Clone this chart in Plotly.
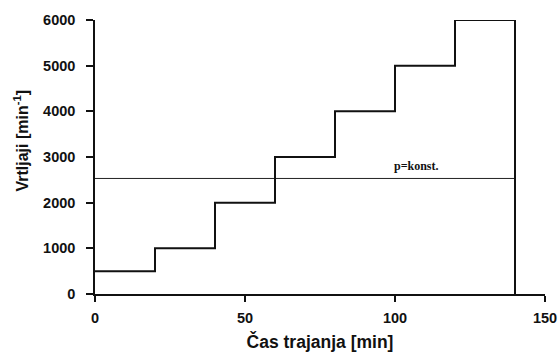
import plotly.graph_objects as go

# Step profile: time [min] and speed [min^-1]
step_time = [0, 20, 20, 40, 40, 60, 60, 80, 80, 100, 100, 120, 120, 140, 140]
step_speed = [500, 500, 1000, 1000, 2000, 2000, 3000, 3000, 4000, 4000, 5000, 5000, 6000, 6000, 0]

const_time = [0, 140]
const_speed = [2530, 2530]
const_label = "p=konst."
const_label_pos = (107, 2810)

x_ticks = [0, 50, 100, 150]
y_ticks = [0, 1000, 2000, 3000, 4000, 5000, 6000]

fig = go.Figure()
fig.add_trace(go.Scatter(x=const_time, y=const_speed, mode="lines",
                         line=dict(color="#222", width=1), showlegend=False))
fig.add_trace(go.Scatter(x=step_time, y=step_speed, mode="lines",
                         line=dict(color="#111", width=2), showlegend=False))

fig.add_annotation(x=const_label_pos[0], y=const_label_pos[1], text="<b>" + const_label + "</b>",
                   showarrow=False, font=dict(family="Liberation Serif", size=12, color="#111"))

# y-axis title placed as annotation (reference has it slightly above centre)
fig.add_annotation(xref="paper", yref="paper", x=0, y=0.56, xshift=-74,
                   xanchor="center", yanchor="middle",
                   text="<b>Vrtljaji [min<sup>-1</sup>]</b>", textangle=-90, showarrow=False,
                   font=dict(family="Liberation Sans", size=16, color="#111"))

axis_font = dict(family="Liberation Sans", size=14.5, color="#111")
fig.update_layout(
    width=558, height=354,
    margin=dict(l=95, r=13, t=20, b=60, autoexpand=False),
    plot_bgcolor="white", paper_bgcolor="white",
    font=axis_font,
    hovermode=False,
    xaxis=dict(range=[0, 150], tickvals=x_ticks, ticktext=[f"<b>{v}</b>" for v in x_ticks],
               automargin=False,
               showgrid=False, zeroline=False, showline=True, linecolor="#111", linewidth=1.5,
               ticks="outside", ticklen=6, tickwidth=1.5, tickcolor="#111", ticklabelstandoff=4,
               title=dict(text="<b>Čas trajanja [min]</b>", font=dict(size=17.5), standoff=11)),
    yaxis=dict(range=[0, 6000], tickvals=y_ticks, ticktext=[f"<b>{v}</b>" for v in y_ticks],
               automargin=False,
               showgrid=False, zeroline=False, showline=True, linecolor="#111", linewidth=1.5,
               ticks="outside", ticklen=7, tickwidth=1.5, tickcolor="#111", ticklabelstandoff=8),
)

fig.write_html("out.html", config={"displayModeBar": False},
               post_script="document.body.style.margin='0';document.body.style.overflow='hidden';")
